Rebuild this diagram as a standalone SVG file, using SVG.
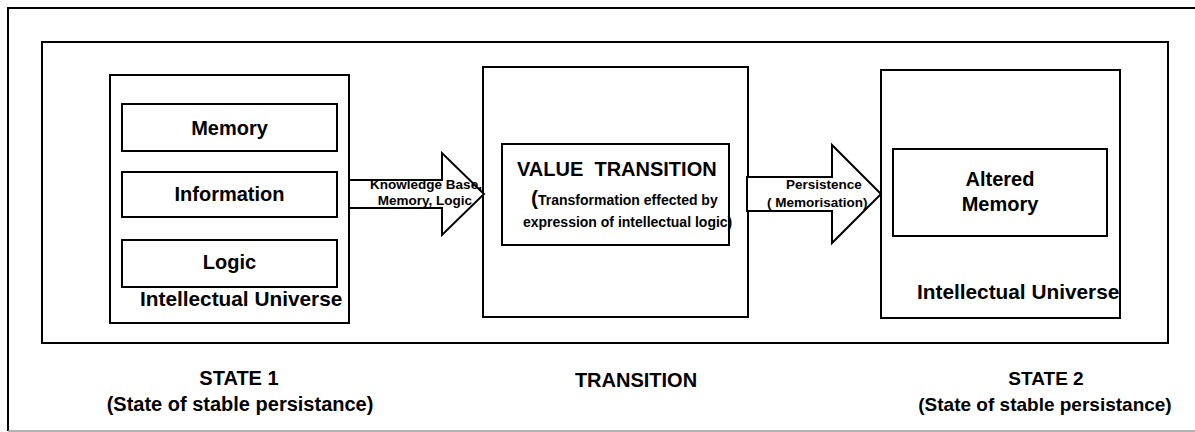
<svg xmlns="http://www.w3.org/2000/svg" width="1195" height="432" viewBox="0 0 1195 432">
  <style>
    .frame { fill: none; stroke: #000; stroke-width: 2; }
    .box { fill: #fff; stroke: #000; stroke-width: 2; }
    .arrow { fill: #fff; stroke: #000; stroke-width: 2; stroke-linejoin: miter; }
    text { font-family: "Liberation Sans", Arial, sans-serif; font-weight: bold; fill: #000; }
    .lg { font-size: 20px; }
    .uni { font-size: 20.8px; }
    .cap2 { font-size: 19px; }
    .md { font-size: 14px; }
    .sm { font-size: 13.5px; }
    .mid { text-anchor: middle; }
  </style>

  <rect width="1195" height="432" fill="#fff"/>

  <!-- outer page frame -->
  <g id="page-frame">
    <path class="frame" d="M8,431 V8 H1196"/>
    <line x1="8" y1="431" x2="1195" y2="431" stroke="#999" stroke-width="1.5"/>
  </g>

  <!-- frame enclosing the three stages -->
  <g id="stage-frame">
    <rect class="frame" x="42" y="42" width="1126" height="301"/>
  </g>

  <!-- state 1 -->
  <g id="state1">
    <rect class="box" x="110" y="75" width="239" height="248"/>
    <g id="memory">
      <rect class="box" x="122" y="104" width="215" height="47"/>
      <text class="lg mid" x="229.5" y="135">Memory</text>
    </g>
    <g id="information">
      <rect class="box" x="122" y="172" width="215" height="45"/>
      <text class="lg mid" x="229.5" y="201">Information</text>
    </g>
    <g id="logic">
      <rect class="box" x="122" y="240" width="215" height="47"/>
      <text class="lg mid" x="229.5" y="269">Logic</text>
    </g>
    <text class="uni" x="140" y="306">Intellectual Universe</text>
  </g>

  <!-- transition -->
  <g id="transition">
    <rect class="box" x="483" y="67" width="265" height="250"/>
    <g id="value-transition">
      <rect class="box" x="502" y="144" width="227" height="101"/>
      <text class="lg" x="517" y="176" xml:space="preserve">VALUE  TRANSITION</text>
      <text class="md" x="531" y="205"><tspan font-size="21">(</tspan>Transformation effected by</text>
      <text class="md" x="523" y="227">expression of intellectual logic)</text>
    </g>
  </g>

  <!-- state 2 -->
  <g id="state2">
    <rect class="box" x="881" y="70" width="239" height="248"/>
    <g id="altered-memory">
      <rect class="box" x="893" y="149" width="214" height="87"/>
      <text class="lg mid" x="1000" y="186">Altered</text>
      <text class="lg mid" x="1000" y="211">Memory</text>
    </g>
    <text class="uni" x="917" y="299">Intellectual Universe</text>
  </g>

  <!-- block arrows between stages -->
  <g id="connectors">
    <polygon class="arrow" points="349,180 442,180 442,153 484,194 442,235 442,208 349,208"/>
    <polygon class="arrow" points="747,177 832,177 832,145 881,194 832,243 832,211 747,211"/>
  </g>

  <g id="connector-labels">
    <text class="sm mid" x="426" y="189">Knowledge Base,</text>
    <text class="sm mid" x="425" y="205">Memory, Logic</text>
    <text class="sm" x="786" y="189">Persistence</text>
    <text class="sm" x="767" y="207" xml:space="preserve">( Memorisation)</text>
  </g>

  <!-- stage captions -->
  <g id="captions">
    <text class="lg mid" x="239" y="385">STATE 1</text>
    <text class="lg mid" x="240" y="411">(State of stable persistance)</text>
    <text class="lg mid" x="636" y="387">TRANSITION</text>
    <text class="cap2 mid" x="1046" y="385">STATE 2</text>
    <text class="cap2 mid" x="1045" y="411">(State of stable persistance)</text>
  </g>
</svg>
